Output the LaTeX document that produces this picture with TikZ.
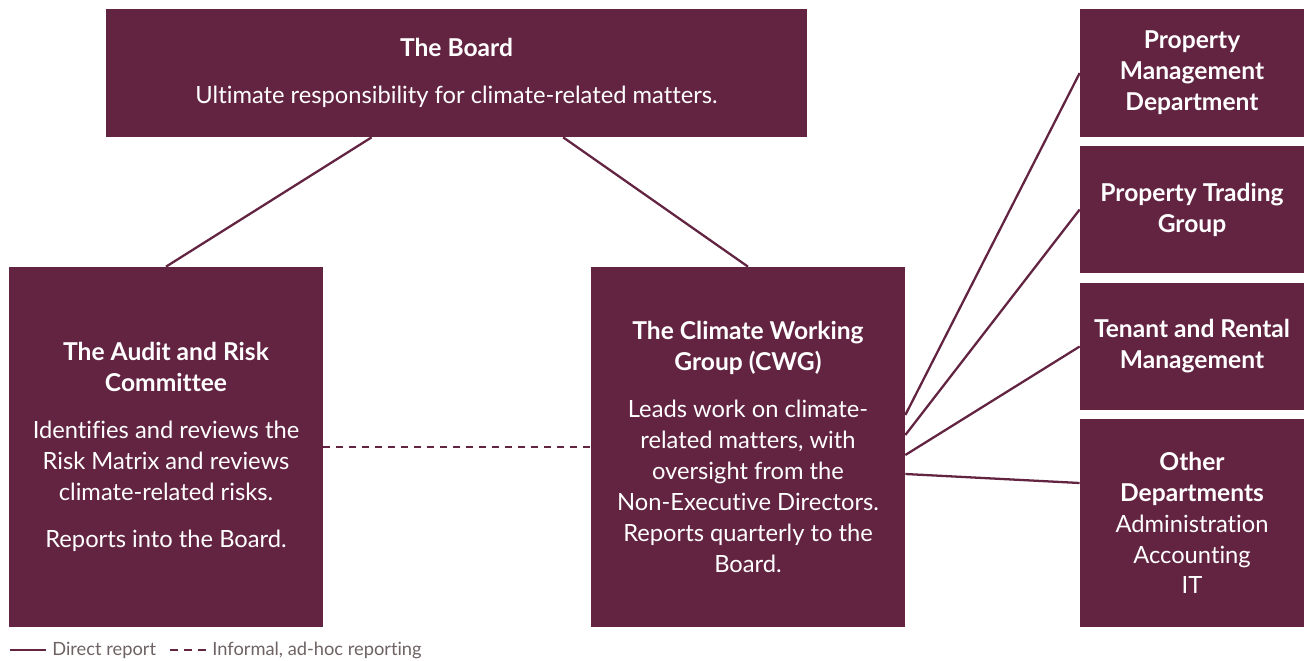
\documentclass[tikz,border=0pt]{standalone}
\usepackage{fontspec}
\setmainfont{Lato}[Ligatures=NoCommon]
\usetikzlibrary{calc}
\definecolor{bordeaux}{HTML}{632442}
\definecolor{legendgris}{HTML}{6E6263}
\newcommand{\boldtitre}[1]{{\fontsize{14}{17.6}\selectfont\bfseries #1}}

\begin{document}
\begin{tikzpicture}[x=0.02cm,y=-0.02cm,
  boite/.style={fill=bordeaux,text=white,inner sep=0pt,align=center,font=\fontsize{13.5}{17.6}\selectfont},
  lien/.style={draw=bordeaux,line width=1.3pt},
  informel/.style={lien,dash pattern=on 0.14cm off 0.12cm},
  legende/.style={text=legendgris,inner sep=0pt,anchor=west,font=\fontsize{10.4}{12}\selectfont}]
\useasboundingbox (0,0) rectangle (1304,661);
% Boites
\node[boite,minimum width=14.02cm,minimum height=2.56cm] (board) at (456.5,73)
  {\boldtitre{The Board}\\[9pt]Ultimate responsibility for climate-related matters.};
\node[boite,minimum width=6.28cm,minimum height=7.2cm] (audit) at (166,447)
  {\boldtitre{The Audit and Risk}\\\boldtitre{Committee}\\[9pt]Identifies and reviews the\\Risk Matrix and reviews\\climate-related risks.\\[9pt]Reports into the Board.};
\node[boite,minimum width=6.28cm,minimum height=7.2cm] (cwg) at (748,447)
  {\boldtitre{The Climate Working}\\\boldtitre{Group (CWG)}\\[9pt]Leads work on climate-\\related matters, with\\oversight from the\\Non-Executive Directors.\\Reports quarterly to the\\Board.};
\node[boite,minimum width=4.48cm,minimum height=2.56cm] (pmd) at (1192,73)
  {\boldtitre{Property}\\\boldtitre{Management}\\\boldtitre{Department}};
\node[boite,minimum width=4.48cm,minimum height=2.54cm] (ptg) at (1192,209.5)
  {\boldtitre{Property Trading}\\\boldtitre{Group}};
\node[boite,minimum width=4.48cm,minimum height=2.54cm] (tenant) at (1192,346.5)
  {\boldtitre{Tenant and Rental}\\\boldtitre{Management}};
\node[boite,minimum width=4.48cm,minimum height=4.16cm] (other) at (1192,523)
  {\boldtitre{Other}\\\boldtitre{Departments}\\Administration\\Accounting\\IT};
% Liens
\draw[lien] ($(board.south west)!0.379!(board.south east)$) -- (audit.north);
\draw[lien] ($(board.south west)!0.652!(board.south east)$) -- (cwg.north);
\draw[informel] (audit.east) -- (cwg.west);
\draw[lien] ([yshift=0.64cm]cwg.east) -- (pmd.west);
\draw[lien] ([yshift=0.24cm]cwg.east) -- (ptg.west);
\draw[lien] ([yshift=-0.16cm]cwg.east) -- (tenant.west);
\draw[lien] ([yshift=-0.54cm]cwg.east) -- ([yshift=0.8cm]other.west);
% Legende
\coordinate (lgdirect) at (10,650);
\coordinate (lginformel) at (170,650);
\node[legende] (direct) at (52,650) {Direct report};
\node[legende] (adhoc) at (212,650) {Informal, ad-hoc reporting};
\draw[lien] (lgdirect) -- ([xshift=-0.12cm]direct.west);
\draw[informel,dash pattern=on 0.16cm off 0.12cm] (lginformel) -- ([xshift=-0.12cm]adhoc.west);
\end{tikzpicture}
\end{document}
